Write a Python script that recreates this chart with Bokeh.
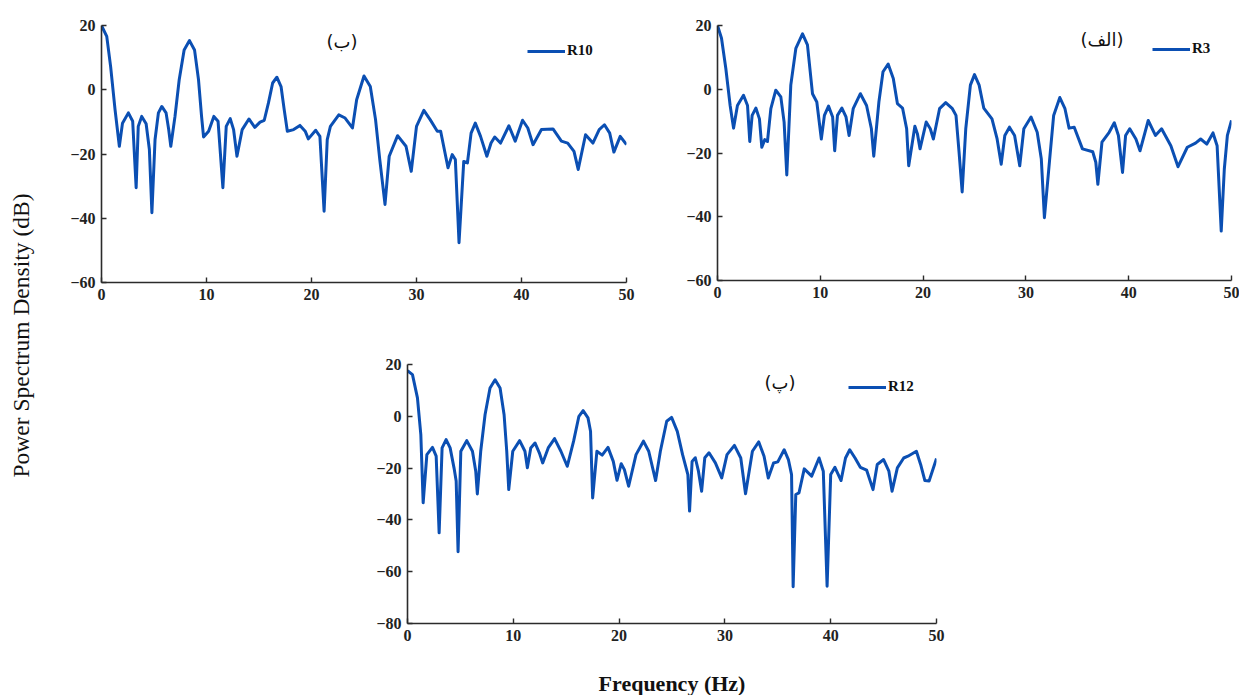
import math
from bokeh.plotting import figure
from bokeh.models import Label, Legend, LegendItem, Spacer, Range1d, FixedTicker
from bokeh.layouts import row, column
from bokeh.embed import file_html
from bokeh.resources import INLINE

# ---------------- data ----------------
r10_freq = [0.0, 0.5, 0.87, 1.29, 1.7, 2.0, 2.56, 2.97, 3.3, 3.5, 3.83, 4.25, 4.56, 4.8, 5.1, 5.42,
            5.74, 6.15, 6.4, 6.6, 7.0, 7.4, 7.87, 8.38, 8.86, 9.24, 9.53, 9.72, 10.2, 10.7, 11.1,
            11.56, 11.88, 12.26, 12.58, 12.9, 13.4, 14.04, 14.6, 15.1, 15.5, 15.9, 16.3, 16.7, 17.1,
            17.4, 17.7, 18.3, 18.9, 19.4, 19.7, 20.4, 20.8, 21.2, 21.5, 21.8, 22.6, 23.2, 23.9, 24.3,
            25.0, 25.6, 26.1, 26.5, 27.0, 27.4, 28.2, 29.0, 29.5, 30.0, 30.7, 31.3, 31.98, 32.3, 33.0,
            33.4, 33.7, 34.05, 34.5, 34.85, 35.2, 35.6, 36.1, 36.7, 37.1, 37.45, 38.0, 38.8, 39.4,
            40.1, 40.6, 41.1, 41.9, 43.0, 43.8, 44.4, 45.0, 45.4, 46.1, 46.8, 47.4, 47.9, 48.4, 48.8,
            49.4, 50.0]
r10_db = [20.0, 16.6, 7.2, -6.2, -17.6, -10.4, -7.2, -9.8, -30.5, -11.4, -8.3, -10.6, -18.6, -38.3,
          -15.5, -7.2, -5.2, -7.2, -12.4, -17.6, -8.3, 3.1, 12.4, 15.3, 12.4, 3.1, -8.3, -14.7, -12.9,
          -8.3, -9.8, -30.5, -11.4, -9.0, -12.4, -20.7, -12.4, -9.1, -11.7, -10.1, -9.5, -4.1, 2.1,
          3.9, 1.0, -6.2, -12.9, -12.4, -11.1, -12.9, -15.3, -12.6, -14.5, -37.8, -15.5, -11.4, -7.8,
          -8.8, -11.9, -3.1, 4.3, 1.0, -9.3, -21.7, -35.7, -20.7, -14.3, -17.6, -25.4, -11.4, -6.4,
          -9.3, -12.9, -12.9, -24.3, -20.2, -21.7, -47.6, -22.3, -22.8, -13.5, -10.4, -14.5, -20.7,
          -16.6, -14.7, -16.6, -11.2, -16.0, -9.5, -11.9, -17.1, -12.4, -12.2, -16.0, -16.6, -19.2,
          -24.8, -14.0, -16.6, -12.4, -10.9, -13.5, -19.4, -14.5, -17.1]

r3_freq = [0.0, 0.39, 0.81, 1.23, 1.56, 1.94, 2.53, 2.92, 3.14, 3.37, 3.73, 4.08, 4.31, 4.6, 4.86,
           5.19, 5.67, 6.16, 6.48, 6.74, 7.13, 7.62, 8.27, 8.75, 9.24, 9.66, 10.1, 10.4, 10.8, 11.2,
           11.4, 11.67, 12.1, 12.5, 12.8, 13.2, 13.9, 14.5, 14.97, 15.2, 15.7, 16.1, 16.6, 17.1,
           17.5, 18.0, 18.4, 18.6, 19.2, 19.45, 19.7, 20.3, 20.7, 21.0, 21.6, 22.2, 22.85, 23.2,
           23.5, 23.8, 24.15, 24.6, 25.0, 25.45, 25.9, 26.7, 27.2, 27.6, 27.95, 28.4, 28.9, 29.4,
           29.8, 30.5, 31.1, 31.5, 31.8, 32.3, 32.7, 33.3, 33.8, 34.2, 34.7, 35.5, 36.5, 36.8, 37.0,
           37.4, 38.1, 38.6, 39.0, 39.4, 39.7, 40.1, 40.7, 41.1, 41.9, 42.6, 43.2, 44.1, 44.8, 45.7,
           46.5, 47.0, 47.6, 48.2, 48.6, 49.0, 49.3, 49.6, 50.0]
r3_db = [20.0, 16.0, 6.5, -5.1, -12.2, -5.1, -1.9, -5.1, -16.4, -8.2, -5.9, -9.3, -18.2, -15.8, -16.4,
         -6.1, -0.3, -2.4, -10.3, -26.9, 1.3, 12.8, 17.4, 13.9, -1.4, -4.0, -15.6, -8.2, -5.3, -8.7,
         -19.3, -8.2, -5.9, -8.7, -14.5, -6.1, -1.4, -5.1, -12.4, -21.0, -4.0, 5.5, 7.9, 3.4, -4.5,
         -5.9, -12.4, -24.0, -11.6, -14.0, -18.7, -10.3, -12.4, -15.6, -6.1, -4.2, -6.1, -8.2, -19.8,
         -32.2, -12.4, 1.3, 4.6, 1.3, -5.9, -9.3, -15.6, -23.5, -14.5, -11.9, -14.5, -24.0, -12.4,
         -8.7, -13.5, -21.9, -40.3, -22.4, -8.2, -2.6, -6.1, -12.2, -11.9, -18.7, -19.6, -22.9, -29.8,
         -16.6, -13.5, -10.5, -14.5, -26.1, -14.5, -12.4, -15.6, -19.3, -9.8, -14.5, -12.4, -17.7,
         -24.3, -18.2, -16.9, -15.6, -17.2, -13.7, -17.7, -44.5, -25.1, -14.5, -9.8]

r12_freq = [0.0, 0.47, 0.94, 1.26, 1.48, 1.83, 2.36, 2.71, 2.99, 3.27, 3.65, 4.03, 4.4, 4.6, 4.78,
            5.04, 5.6, 6.14, 6.45, 6.6, 6.92, 7.33, 7.8, 8.28, 8.75, 9.13, 9.38, 9.57, 9.95, 10.6,
            11.1, 11.33, 11.65, 12.05, 12.46, 12.78, 13.3, 13.9, 14.5, 15.1, 15.7, 16.2, 16.6, 17.06,
            17.3, 17.5, 17.9, 18.4, 18.95, 19.45, 19.8, 20.2, 20.5, 20.9, 21.6, 22.3, 22.8, 23.45,
            23.9, 24.5, 24.96, 25.5, 26.0, 26.5, 26.66, 26.9, 27.2, 27.5, 27.8, 28.1, 28.5, 29.1,
            29.7, 30.2, 30.9, 31.5, 31.95, 32.6, 33.2, 33.7, 34.1, 34.6, 35.0, 35.6, 36.0, 36.3,
            36.45, 36.7, 37.0, 37.5, 38.2, 38.9, 39.3, 39.66, 40.0, 40.4, 40.98, 41.4, 41.8, 42.3,
            42.8, 43.4, 44.0, 44.4, 45.0, 45.5, 45.8, 46.3, 46.9, 47.3, 48.1, 48.5, 48.9, 49.3, 50.0]
r12_db = [17.6, 16.1, 7.1, -7.1, -33.4, -14.8, -12.0, -15.4, -45.0, -12.2, -9.0, -12.2, -20.0, -25.0,
          -52.3, -13.5, -9.4, -13.5, -21.2, -30.0, -13.5, 0.6, 10.9, 14.1, 10.9, 0.6, -13.5, -28.3,
          -13.5, -9.4, -13.5, -19.9, -12.2, -10.3, -14.1, -18.0, -12.2, -8.6, -13.5, -19.3, -9.6,
          0.0, 2.2, -0.6, -5.8, -31.5, -13.5, -15.0, -12.0, -17.4, -24.7, -18.3, -20.6, -27.0, -14.8,
          -9.6, -13.5, -24.8, -13.5, -1.9, -0.4, -5.8, -14.8, -22.5, -36.6, -17.4, -16.0, -21.2,
          -28.9, -16.0, -14.1, -18.0, -23.8, -14.8, -11.2, -16.1, -29.9, -13.5, -9.9, -15.4, -23.8,
          -18.0, -17.6, -12.9, -16.7, -22.5, -65.8, -30.2, -29.6, -20.3, -23.1, -16.1, -21.2, -65.6,
          -22.5, -19.7, -24.8, -16.1, -12.9, -16.1, -19.7, -20.8, -28.3, -18.6, -16.7, -21.2, -28.9,
          -19.9, -16.1, -15.4, -13.5, -18.6, -24.8, -25.0, -16.3]

x_ticks = [0, 10, 20, 30, 40, 50]
y_ticks_top = [-60, -40, -20, 0, 20]
y_ticks_bottom = [-80, -60, -40, -20, 0, 20]

LINE = "#0b4fb3"
AXIS = "#2b2b2b"
SERIF = "Liberation Serif"
ARABIC = "DejaVu Sans"


def make_panel(freq, db, name, title, ymin, yticks, title_x, title_y,
               leg_x, leg_y, fw, fh, bl, bt, bb, br):
    p = figure(width=bl + fw + br, height=bt + fh + bb, output_backend="svg",
               toolbar_location=None, x_range=Range1d(0, 50), y_range=Range1d(ymin, 20),
               min_border_left=bl, min_border_top=bt, min_border_bottom=bb, min_border_right=br)
    p.frame_width = fw
    p.frame_height = fh
    p.outline_line_color = None
    p.grid.grid_line_color = None
    p.background_fill_color = "white"
    r = p.line(freq, db, line_color=LINE, line_width=3, line_join="round")
    for ax in (p.xaxis[0], p.yaxis[0]):
        ax.axis_line_color = AXIS
        ax.axis_line_width = 1.6
        ax.major_tick_line_color = AXIS
        ax.major_tick_line_width = 1.4
        ax.major_tick_in = 5
        ax.major_tick_out = 0
        ax.minor_tick_line_color = None
        ax.major_label_text_font = SERIF
        ax.major_label_text_font_style = "bold"
        ax.major_label_text_font_size = "16px"
        ax.major_label_text_color = "#222222"
    p.xaxis.ticker = FixedTicker(ticks=x_ticks)
    p.yaxis.ticker = FixedTicker(ticks=yticks)
    p.xaxis.major_label_standoff = 6
    p.yaxis.major_label_standoff = 6
    leg = Legend(items=[LegendItem(label=name, renderers=[r])], location=(leg_x, leg_y),
                 orientation="vertical", padding=0, margin=0, spacing=0,
                 glyph_width=38, glyph_height=16, label_standoff=2,
                 label_text_font=SERIF, label_text_font_style="bold",
                 label_text_font_size="15px", label_text_color="#111111",
                 border_line_color=None, background_fill_alpha=0)
    p.add_layout(leg, "center")
    p.add_layout(Label(x=title_x, y=title_y, text=title, text_align="center",
                       text_baseline="middle", text_font=ARABIC, text_font_size="18px",
                       text_color="#111111"))
    return p


# top-left panel (R10)
p1 = make_panel(r10_freq, r10_db, "R10", "(ب)", -60, y_ticks_top, 22.9, 14.9,
                426, 223, 525, 257, 53, 25, 56, 36)
# top-right panel (R3)
p2 = make_panel(r3_freq, r3_db, "R3", "(الف)", -60, y_ticks_top, 37.4, 15.6,
                435, 223, 514, 255, 55, 22, 61, 8)
# bottom panel (R12)
p3 = make_panel(r12_freq, r12_db, "R12", "(پ)", -80, y_ticks_bottom, 35.2, 13.1,
                441, 228, 529, 259, 55, 26, 63, 20)
p3.xaxis.axis_label = "Frequency (Hz)"
p3.xaxis.axis_label_text_font = SERIF
p3.xaxis.axis_label_text_font_style = "bold"
p3.xaxis.axis_label_text_font_size = "22px"
p3.xaxis.axis_label_text_color = "#111111"
p3.xaxis.axis_label_standoff = 27

TOTAL_H = 338 + 348
# y label column
ylab = figure(width=48, height=TOTAL_H, output_backend="svg", toolbar_location=None,
              x_range=Range1d(0, 1), y_range=Range1d(0, 1), min_border=0)
ylab.axis.visible = False
ylab.grid.grid_line_color = None
ylab.outline_line_color = None
ylab.add_layout(Label(x=20, y=TOTAL_H - 335, x_units="screen", y_units="screen",
                      text="Power Spectrum Density (dB)", angle=math.pi / 2,
                      text_align="center", text_baseline="middle", text_font=SERIF,
                      text_font_size="23.5px", text_color="#111111"))

top = row(p1, p2)
bottom = row(Spacer(width=304, height=348), p3)
layout = row(ylab, column(top, bottom))

open("out.html", "w").write(file_html(layout, INLINE))
